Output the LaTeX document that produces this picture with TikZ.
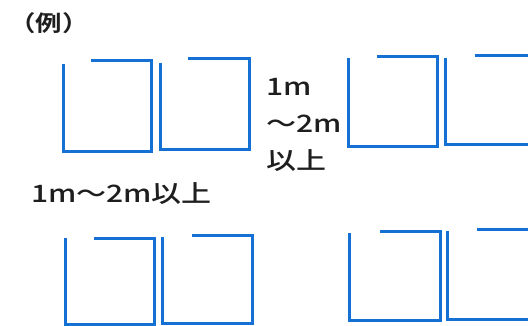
\documentclass[tikz,border=0pt]{standalone}
\usepackage{fontspec}
\setmainfont{Noto Sans CJK JP}[BoldFont={Noto Sans CJK JP Medium}]
\newfontfamily\heavyjp{Noto Sans CJK JP Bold}
\definecolor{boxblue}{RGB}{20,112,210}
\definecolor{txt}{RGB}{30,30,30}
\tikzset{
  pen/.style={draw=boxblue, line width=3pt, line cap=butt, line join=miter},
  lbl/.style={inner sep=0pt, anchor=west, text=txt, font=\fontsize{24}{24}\selectfont\bfseries},
}
\newcommand{\stretchtxt}[1]{\scalebox{1.25}[1]{#1}}
% box: left x, top y of left line, top line y, gap end x, right x, bottom y
\newcommand{\openbox}[6]{\draw[pen] (#1,#2) -- (#1,#6) -- (#5,#6) -- (#5,#3) -- (#4,#3);}
\begin{document}
\begin{tikzpicture}[x=1pt,y=-1pt]
\useasboundingbox (0,0) rectangle (528,326);
\fill[white] (0,0) rectangle (528,326);
\node[lbl, font=\fontsize{22}{22}\selectfont\heavyjp] (rei) at (9,23) {\scalebox{1.2}[1]{（例）}};
% top-left pair
\openbox{63}{64}{61}{91}{151}{152}
\openbox{160}{63}{59}{188}{249}{150}
% top-right pair
\openbox{348}{58}{57}{377}{437}{147}
\openbox{445}{58}{56}{475}{535}{145}
% bottom-left pair
\openbox{65}{238}{239}{94}{154}{324}
\openbox{162}{237}{236}{192}{252}{323}
% bottom-right pair
\openbox{349}{233}{232}{380}{440}{320}
\openbox{447}{231}{230}{477}{535}{319}
% labels
\node[lbl] (l1) at (266,87) {\stretchtxt{1m}};
\node[lbl] (l2) at (266,124) {\stretchtxt{～2m}};
\node[lbl] (l3) at (266,161) {\stretchtxt{以上}};
\node[lbl] (l4) at (31,194) {\stretchtxt{1m～2m以上}};
\end{tikzpicture}
\end{document}
